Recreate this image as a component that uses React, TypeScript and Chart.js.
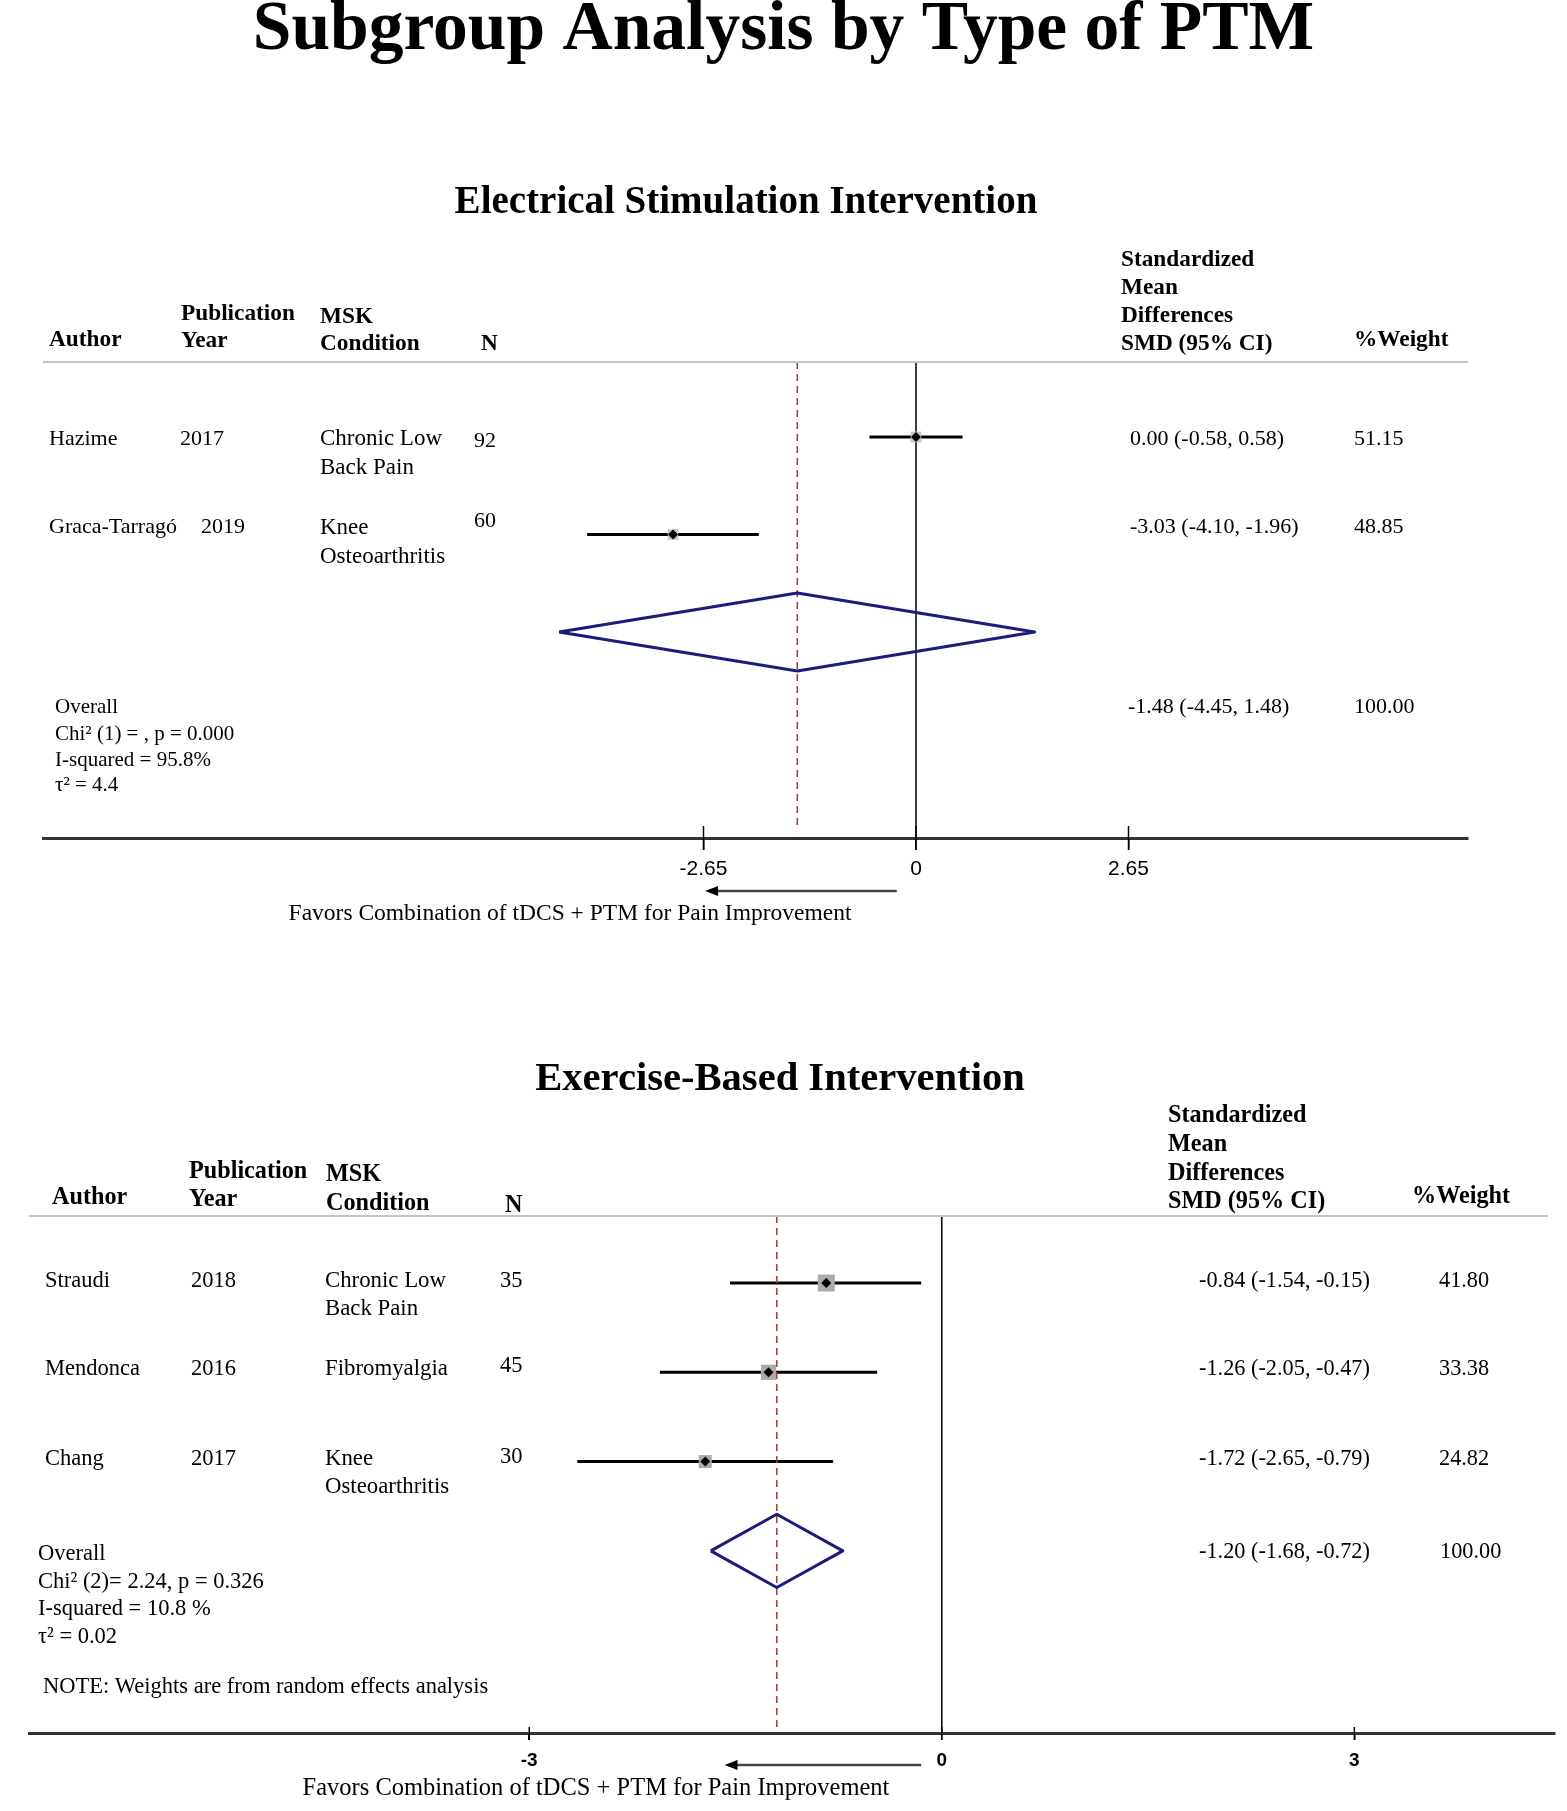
import React, { useEffect, useRef } from 'react';
import { Chart, registerables } from 'chart.js';

Chart.register(...registerables);

const SERIF = '"Liberation Serif", "Times New Roman", serif';
const SANS = '"Liberation Sans", Arial, sans-serif';
const PAGE_W = 1567;
const PAGE_H = 1811;

// ---------- Texts ----------
const MAIN_TITLE = 'Subgroup Analysis by Type of PTM';
const FAVORS = 'Favors Combination of tDCS + PTM for Pain Improvement';
const HEAD_AUTHOR = 'Author';
const HEAD_YEAR = ['Publication', 'Year'];
const HEAD_COND = ['MSK', 'Condition'];
const HEAD_N = 'N';
const HEAD_SMD = ['Standardized', 'Mean', 'Differences', 'SMD (95% CI)'];
const HEAD_WEIGHT = '%Weight';

// ---------- Panel 1: Electrical Stimulation ----------
const es_title = 'Electrical Stimulation Intervention';
const es_authors = ['Hazime', 'Graca-Tarragó'];
const es_years = ['2017', '2019'];
const es_conditions = [['Chronic Low', 'Back Pain'], ['Knee', 'Osteoarthritis']];
const es_n = ['92', '60'];
const es_smd = [0.0, -3.03];
const es_lower = [-0.58, -4.1];
const es_upper = [0.58, -1.96];
const es_weight = [51.15, 48.85];
const es_overall = [-1.48, -4.45, 1.48]; // estimate, lower, upper
const es_overall_weight = '100.00';
const es_stats = ['Overall', 'Chi² (1) = , p = 0.000', 'I-squared = 95.8%', 'τ² = 4.4'];
const es_ticks = [-2.65, 0, 2.65];

// ---------- Panel 2: Exercise-Based ----------
const ex_title = 'Exercise-Based Intervention';
const ex_authors = ['Straudi', 'Mendonca', 'Chang'];
const ex_years = ['2018', '2016', '2017'];
const ex_conditions = [['Chronic Low', 'Back Pain'], ['Fibromyalgia'], ['Knee', 'Osteoarthritis']];
const ex_n = ['35', '45', '30'];
const ex_smd = [-0.84, -1.26, -1.72];
const ex_lower = [-1.54, -2.05, -2.65];
const ex_upper = [-0.15, -0.47, -0.79];
const ex_weight = [41.8, 33.38, 24.82];
const ex_overall = [-1.2, -1.68, -0.72];
const ex_overall_weight = '100.00';
const ex_stats = ['Overall', 'Chi² (2)= 2.24, p = 0.326', 'I-squared = 10.8 %', 'τ² = 0.02'];
const ex_note = 'NOTE: Weights are from random effects analysis';
const ex_ticks = [-3, 0, 3];

const fmt = (v: number) => v.toFixed(2);

type Spec = any;

const SPEC1: Spec = {
  id: 'p1',
  canvasTop: 0, canvasH: 940,
  areaL: 43, areaR: 1468, areaT: 362, areaB: 838, headerR: 1468,
  zeroPx: 916, pxPerUnit: 80.2,
  row1Px: 437, rowStep: 97.5,
  diamondHalf: 0.4, boxScale: 1.5, boxColor: '#c4c4c4',
  redGap: 12, tickUp: 12, tickDown: 12, tickBold: false, tickPad: 7, tickSize: 21,
  titles: [
    { text: MAIN_TITLE, x: 783.5, y: 49, size: 69.5 },
    { text: es_title, x: 746, y: 213, size: 39 },
  ],
  headSize: 23.3, rowSize: 22, condSize: 23, ciSize: 22,
  head: {
    author: [49, 346], year: [181, 320, 347], cond: [320, 323, 350], n: [481, 350],
    smd: [1121, 266, 294, 322, 350], weight: [1354, 346],
  },
  cols: { author: 49, year: [180, 201], cond: 320, n: 474, ci: 1130, w: 1354 },
  rowY: [445, 533], condY: [445, 534], condGap: 28.5, nY: [447, 527],
  stats: { x: 55, ys: [713, 740, 766, 791], size: 21, ciX: 1128, wX: 1354, ciY: 713 },
  note: null,
  favors: { x: 570, y: 920, size: 23.5, arrowY: 891, from: -0.24, to: -2.63 },
  data: {
    authors: es_authors, years: es_years, conds: es_conditions, n: es_n,
    smd: es_smd, lo: es_lower, hi: es_upper, w: es_weight,
    overall: es_overall, overallW: es_overall_weight, stats: es_stats, ticks: es_ticks,
  },
};

const SPEC2: Spec = {
  id: 'p2',
  canvasTop: 940, canvasH: 871,
  areaL: 29, areaR: 1557, areaT: 1216, areaB: 1733, headerR: 1548,
  zeroPx: 943, pxPerUnit: 137.7,
  row1Px: 1283, rowStep: 89.3,
  diamondHalf: 0.41, boxScale: 2.63, boxColor: '#ababab',
  redGap: 6, tickUp: 6, tickDown: 7, tickBold: true, tickPad: 9, tickSize: 19,
  titles: [{ text: ex_title, x: 780, y: 1090, size: 40.6 }],
  headSize: 24.2, rowSize: 22.5, condSize: 22.8, ciSize: 22.3,
  head: {
    author: [52, 1204], year: [189, 1178, 1206], cond: [326, 1181, 1210], n: [505, 1212],
    smd: [1168, 1122, 1151, 1180, 1208], weight: [1412, 1203],
  },
  cols: { author: 45, year: [191, 191, 191], cond: 325, n: 500, ci: 1199, w: 1439 },
  rowY: [1287, 1375, 1465], condY: [1287, 1375, 1465], condGap: 27.5, nY: [1287, 1372, 1463],
  stats: { x: 38, ys: [1560, 1588, 1615, 1643], size: 22.5, ciX: 1199, wX: 1440, ciY: 1558 },
  note: { text: ex_note, x: 43, y: 1693, size: 22.5 },
  favors: { x: 596, y: 1795, size: 24.5, arrowY: 1765, from: -0.15, to: -1.58 },
  data: {
    authors: ex_authors, years: ex_years, conds: ex_conditions, n: ex_n,
    smd: ex_smd, lo: ex_lower, hi: ex_upper, w: ex_weight,
    overall: ex_overall, overallW: ex_overall_weight, stats: ex_stats, ticks: ex_ticks,
  },
};

function textPlugin(spec: Spec) {
  return {
    id: 'forestText_' + spec.id,
    afterDraw(chart: any) {
      const ctx = chart.ctx as CanvasRenderingContext2D;
      const off = spec.canvasTop;
      const X = chart.scales.x;
      const d = spec.data;
      const T = (s: string, x: number, y: number, size: number, bold = false, align: CanvasTextAlign = 'left') => {
        ctx.font = `${bold ? 'bold ' : ''}${size}px ${SERIF}`;
        ctx.textAlign = align;
        ctx.textBaseline = 'alphabetic';
        ctx.fillStyle = '#000';
        ctx.fillText(s, x, y - off);
      };
      const L = (x1: number, y1: number, x2: number, y2: number, color: string, w: number) => {
        ctx.beginPath();
        ctx.strokeStyle = color;
        ctx.lineWidth = w;
        ctx.moveTo(x1, y1 - off);
        ctx.lineTo(x2, y2 - off);
        ctx.stroke();
      };
      ctx.save();
      // titles
      spec.titles.forEach((t: any) => T(t.text, t.x, t.y, t.size, true, 'center'));
      // header rule
      L(spec.areaL, spec.areaT, spec.headerR, spec.areaT, '#c4c4c4', 2);
      // headers
      const h = spec.head;
      const HS = spec.headSize;
      T(HEAD_AUTHOR, h.author[0], h.author[1], HS, true);
      T(HEAD_YEAR[0], h.year[0], h.year[1], HS, true);
      T(HEAD_YEAR[1], h.year[0], h.year[2], HS, true);
      T(HEAD_COND[0], h.cond[0], h.cond[1], HS, true);
      T(HEAD_COND[1], h.cond[0], h.cond[2], HS, true);
      T(HEAD_N, h.n[0], h.n[1], HS, true);
      HEAD_SMD.forEach((s, i) => T(s, h.smd[0], h.smd[i + 1], HS, true));
      T(HEAD_WEIGHT, h.weight[0], h.weight[1], HS, true);
      // study rows
      const c = spec.cols;
      const RS = spec.rowSize;
      d.authors.forEach((a: string, i: number) => {
        T(a, c.author, spec.rowY[i], RS);
        T(d.years[i], c.year[i], spec.rowY[i], RS);
        d.conds[i].forEach((s: string, j: number) => T(s, c.cond, spec.condY[i] + j * spec.condGap, spec.condSize));
        T(d.n[i], c.n, spec.nY[i], RS);
        T(`${fmt(d.smd[i])} (${fmt(d.lo[i])}, ${fmt(d.hi[i])})`, c.ci, spec.rowY[i], spec.ciSize);
        T(fmt(d.w[i]), c.w, spec.rowY[i], spec.ciSize);
      });
      // overall
      const st = spec.stats;
      d.stats.forEach((s: string, i: number) => T(s, st.x, st.ys[i], st.size));
      T(`${fmt(d.overall[0])} (${fmt(d.overall[1])}, ${fmt(d.overall[2])})`, st.ciX, st.ciY, spec.ciSize);
      T(d.overallW, st.wX, st.ciY, spec.ciSize);
      if (spec.note) T(spec.note.text, spec.note.x, spec.note.y, spec.note.size);
      // full tick marks (above and below the axis)
      d.ticks.forEach((v: number) => {
        const px = X.getPixelForValue(v);
        L(px, spec.areaB - spec.tickUp, px, spec.areaB + spec.tickDown, '#000', 1.5);
      });
      // arrow + favors label
      const f = spec.favors;
      const xs = X.getPixelForValue(f.from);
      const xe = X.getPixelForValue(f.to);
      L(xs, f.arrowY, xe + 8, f.arrowY, '#444', 2.5);
      ctx.beginPath();
      ctx.fillStyle = '#000';
      ctx.moveTo(xe, f.arrowY - off);
      ctx.lineTo(xe + 13, f.arrowY - 5 - off);
      ctx.lineTo(xe + 13, f.arrowY + 5 - off);
      ctx.closePath();
      ctx.fill();
      T(FAVORS, f.x, f.y, f.size, false, 'center');
      ctx.restore();
    },
  };
}

function buildChart(canvas: HTMLCanvasElement, spec: Spec) {
  const d = spec.data;
  const xMin = -(spec.zeroPx - spec.areaL) / spec.pxPerUnit;
  const xMax = (spec.areaR - spec.zeroPx) / spec.pxPerUnit;
  const yMin = 1 - (spec.row1Px - spec.areaT) / spec.rowStep;
  const yMax = 1 + (spec.areaB - spec.row1Px) / spec.rowStep;
  const redEnd = yMax - spec.redGap / spec.rowStep;
  const ov = d.overall;
  const r = d.smd.length + 1;
  const hh = spec.diamondHalf;

  const datasets: any[] = [];
  datasets.push({
    data: [{ x: 0, y: yMin }, { x: 0, y: yMax }],
    showLine: true, borderColor: '#000', borderWidth: 1.5, pointRadius: 0, order: 10,
  });
  d.smd.forEach((_: number, i: number) => {
    datasets.push({
      data: [{ x: d.lo[i], y: i + 1 }, { x: d.hi[i], y: i + 1 }],
      showLine: true, borderColor: '#000', borderWidth: 3, pointRadius: 0, order: 8,
    });
  });
  datasets.push({
    data: d.smd.map((v: number, i: number) => ({ x: v, y: i + 1 })),
    pointStyle: 'rect',
    pointRadius: (ctx: any) => (spec.boxScale * Math.sqrt(d.w[ctx.dataIndex] ?? 0)) / Math.SQRT2,
    backgroundColor: spec.boxColor, borderWidth: 0, order: 6,
  });
  datasets.push({
    data: d.smd.map((v: number, i: number) => ({ x: v, y: i + 1 })),
    pointStyle: 'rectRot', pointRadius: 5, backgroundColor: '#000', borderColor: '#000', borderWidth: 0, order: 4,
  });
  datasets.push({
    data: [{ x: ov[0], y: yMin }, { x: ov[0], y: redEnd }],
    showLine: true, borderColor: '#a8383c', borderWidth: 1.5, borderDash: [7, 5], pointRadius: 0, order: 3,
  });
  datasets.push({
    data: [
      { x: ov[1], y: r }, { x: ov[0], y: r - hh }, { x: ov[2], y: r }, { x: ov[0], y: r + hh }, { x: ov[1], y: r },
    ],
    showLine: true, borderColor: '#1c1c7c', borderWidth: 3, pointRadius: 0, borderJoinStyle: 'round', order: 2,
  });

  return new Chart(canvas, {
    type: 'scatter',
    data: { datasets },
    plugins: [textPlugin(spec)],
    options: {
      animation: false,
      responsive: false,
      devicePixelRatio: 1,
      events: [],
      layout: { padding: { left: spec.areaL, right: PAGE_W - spec.areaR, top: spec.areaT - spec.canvasTop, bottom: 0 } },
      plugins: { legend: { display: false }, tooltip: { enabled: false }, title: { display: false } },
      scales: {
        x: {
          type: 'linear', position: 'bottom', min: xMin, max: xMax, bounds: 'data',
          afterBuildTicks: (s: any) => { s.ticks = d.ticks.map((v: number) => ({ value: v })); },
          afterFit: (s: any) => { s.height = spec.canvasTop + spec.canvasH - spec.areaB; },
          border: { display: true, color: '#333', width: 3 },
          grid: { display: true, drawOnChartArea: false, drawTicks: true, tickLength: spec.tickDown, color: '#000', lineWidth: 1.5 },
          ticks: {
            autoSkip: false, maxRotation: 0, padding: spec.tickPad, color: '#000',
            font: { family: SANS, size: spec.tickSize, weight: spec.tickBold ? 'bold' : 'normal' },
            callback: (v: any) => String(v),
          },
        },
        y: { type: 'linear', min: yMin, max: yMax, reverse: true, display: false },
      },
    } as any,
  });
}

export default function App() {
  const c1 = useRef<HTMLCanvasElement>(null);
  const c2 = useRef<HTMLCanvasElement>(null);
  useEffect(() => {
    document.body.style.overflow = 'hidden';
    const ch1 = buildChart(c1.current!, SPEC1);
    const ch2 = buildChart(c2.current!, SPEC2);
    return () => { ch1.destroy(); ch2.destroy(); };
  }, []);
  return (
    <div style={{ position: 'absolute', left: 0, top: 0, width: PAGE_W, height: PAGE_H, background: '#fff', overflow: 'hidden' }}>
      <canvas ref={c1} width={PAGE_W} height={SPEC1.canvasH}
        style={{ position: 'absolute', left: 0, top: SPEC1.canvasTop, width: PAGE_W, height: SPEC1.canvasH }} />
      <canvas ref={c2} width={PAGE_W} height={SPEC2.canvasH}
        style={{ position: 'absolute', left: 0, top: SPEC2.canvasTop, width: PAGE_W, height: SPEC2.canvasH }} />
    </div>
  );
}
